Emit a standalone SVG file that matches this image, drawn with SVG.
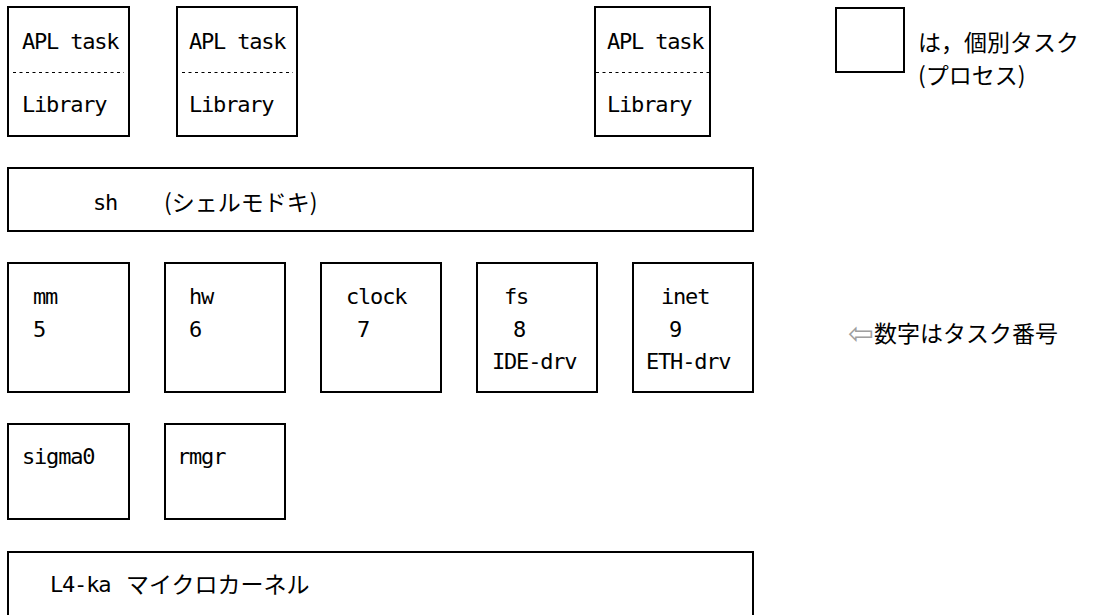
<svg xmlns="http://www.w3.org/2000/svg" width="1107" height="615" viewBox="0 0 1107 615">
  <style>
    .box { fill: #fff; stroke: #000; stroke-width: 2; }
    .sep { stroke: #000; stroke-width: 1; stroke-dasharray: 3 3.5; }
    .mono { font-family: "DejaVu Sans Mono", "Liberation Mono", monospace; font-size: 22px; letter-spacing: -1.2px; fill: #000; }
    .jp { font-family: "Noto Sans CJK JP", "Noto Sans", sans-serif; font-size: 23px; fill: #000; }
    .hint { fill: #a0a0a0; }
  </style>
  <rect width="1107" height="615" fill="#fff"/>

  <!-- application tasks -->
  <g id="apl1">
    <rect class="box" x="8" y="7" width="121" height="129"/>
    <line class="sep" x1="13" y1="72.5" x2="124" y2="72.5"/>
    <text class="mono" x="22" y="49">APL task</text>
    <text class="mono" x="22" y="112">Library</text>
  </g>
  <g id="apl2">
    <rect class="box" x="177" y="7" width="120" height="129"/>
    <line class="sep" x1="182" y1="72.5" x2="293" y2="72.5"/>
    <text class="mono" x="189" y="49">APL task</text>
    <text class="mono" x="189" y="112">Library</text>
  </g>
  <g id="apl3">
    <rect class="box" x="595" y="7" width="115" height="129"/>
    <line class="sep" x1="596" y1="72.5" x2="709" y2="72.5"/>
    <text class="mono" x="607" y="49">APL task</text>
    <text class="mono" x="607" y="112">Library</text>
  </g>

  <!-- legend -->
  <g id="legend">
    <rect class="box" x="836" y="8" width="68" height="64"/>
    <text class="jp" x="918" y="51">は，個別タスク</text>
    <text class="jp" x="918" y="84">(プロセス)</text>
  </g>

  <!-- shell -->
  <g id="sh">
    <rect class="box" x="8" y="168" width="745" height="63"/>
    <text class="mono" x="93" y="210">sh</text>
    <text class="jp" x="164" y="211">(シェルモドキ)</text>
  </g>

  <!-- servers -->
  <g id="mm">
    <rect class="box" x="8" y="263" width="121" height="129"/>
    <text class="mono" x="33" y="304">mm</text>
    <text class="mono" x="33" y="337">5</text>
  </g>
  <g id="hw">
    <rect class="box" x="165" y="263" width="120" height="129"/>
    <text class="mono" x="189" y="304">hw</text>
    <text class="mono" x="189" y="337">6</text>
  </g>
  <g id="clock">
    <rect class="box" x="321" y="263" width="120" height="129"/>
    <text class="mono" x="346" y="304">clock</text>
    <text class="mono" x="357" y="337">7</text>
  </g>
  <g id="fs">
    <rect class="box" x="477" y="263" width="120" height="129"/>
    <text class="mono" x="504" y="304">fs</text>
    <text class="mono" x="513" y="337">8</text>
    <text class="mono" x="492" y="369">IDE-drv</text>
  </g>
  <g id="inet">
    <rect class="box" x="633" y="263" width="120" height="129"/>
    <text class="mono" x="661" y="304">inet</text>
    <text class="mono" x="669" y="337">9</text>
    <text class="mono" x="646" y="369">ETH-drv</text>
  </g>

  <g id="note">
    <text class="jp" x="848" y="342" font-size="24"><tspan class="hint" font-family="DejaVu Sans, sans-serif" font-size="31" dy="2">⇦</tspan><tspan dy="-2">数字はタスク番号</tspan></text>
  </g>

  <g id="sigma0">
    <rect class="box" x="8" y="424" width="121" height="95"/>
    <text class="mono" x="22" y="464">sigma0</text>
  </g>
  <g id="rmgr">
    <rect class="box" x="165" y="424" width="120" height="95"/>
    <text class="mono" x="177" y="464">rmgr</text>
  </g>

  <!-- kernel -->
  <g id="l4ka">
    <rect class="box" x="8" y="552" width="745" height="90"/>
    <text class="mono" x="50" y="592">L4-ka</text>
    <text class="jp" x="126" y="593">マイクロカーネル</text>
  </g>

  <g id="connectors"/>
</svg>
